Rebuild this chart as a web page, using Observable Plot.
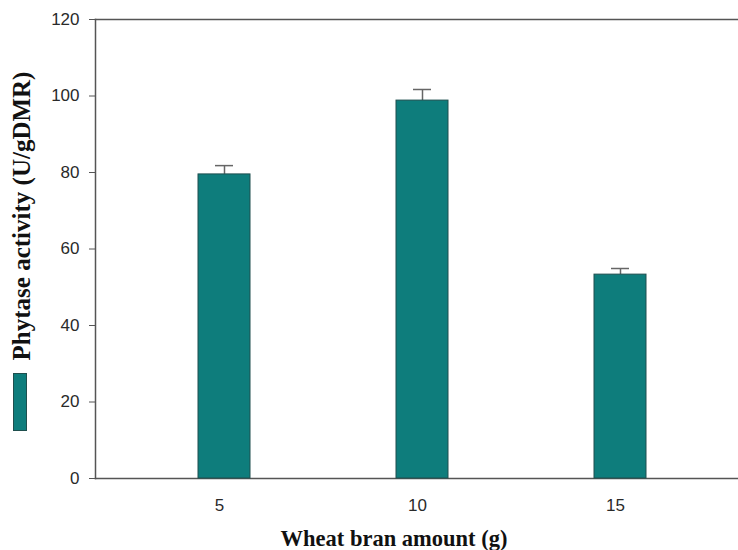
<!DOCTYPE html>
<html>
<head>
<meta charset="utf-8">
<script src="https://cdn.jsdelivr.net/npm/d3@7"></script>
<script src="https://cdn.jsdelivr.net/npm/@observablehq/plot@0.6"></script>
<style>
  html, body { margin: 0; padding: 0; background: #fff; overflow: hidden; }
  #chart { position: relative; width: 738px; height: 550px; }
  #chart svg { display: block; max-width: none !important; }
  #swatch { position: absolute; left: 13px; top: 373px; width: 12px; height: 56px;
            background: #0e7d7c; border: 1px solid #1f4f4e; }
</style>
</head>
<body>
<div id="chart"><div id="swatch"></div></div>
<script>
const amounts = [5, 10, 15];
const activity = [79.5, 98.8, 53.3];
const errors = [2.3, 2.9, 1.6];
const yTicks = [0, 20, 40, 60, 80, 100, 120];
const xLabel = "Wheat bran amount (g)";
const yLabel = "Phytase activity (U/gDMR)";

const data = amounts.map((a, i) => ({amount: a, value: activity[i], err: errors[i]}));

const plot = Plot.plot({
  width: 738,
  height: 550,
  marginLeft: 95,
  marginRight: 0,
  marginTop: 19,
  marginBottom: 72,
  style: {background: "transparent", color: "#333", maxWidth: "none"},
  x: {type: "band", domain: amounts, paddingInner: 0.738, paddingOuter: 0, insetLeft: 102, insetRight: 92},
  y: {domain: [0, 120], ticks: yTicks},
  marks: [
    Plot.frame({anchor: "bottom", stroke: "#555", strokeWidth: 1.5}),
    Plot.frame({anchor: "top", stroke: "#555", strokeWidth: 1.5}),
    Plot.frame({anchor: "left", stroke: "#555", strokeWidth: 1.5}),
    Plot.ruleX(data, {x: "amount", y1: "value", y2: d => d.value + d.err, stroke: "#666", strokeWidth: 1.5}),
    Plot.tickY(data, {x: "amount", y: d => d.value + d.err, stroke: "#666", strokeWidth: 1.5, insetLeft: 17, insetRight: 17}),
    Plot.barY(data, {x: "amount", y: "value", fill: "#0e7d7c", stroke: "#1f4f4e", strokeWidth: 1}),
    Plot.axisY({ticks: yTicks, tickSize: 6, tickPadding: 10, fontSize: 17, fontFamily: "Liberation Sans, Arial, sans-serif", label: null, stroke: "#555", color: "#2a2a2a"}),
    Plot.axisX({tickSize: 0, tickPadding: 20, dx: -5, fontSize: 17, fontFamily: "Liberation Sans, Arial, sans-serif", label: null, color: "#2a2a2a"}),
    Plot.text([xLabel], {frameAnchor: "bottom", textAnchor: "middle", lineAnchor: "middle", dx: -23, dy: 60, fontSize: 22.5, fontWeight: "bold", fontFamily: "Liberation Serif, Times New Roman, serif", fill: "#111"}),
    Plot.text([yLabel], {frameAnchor: "left", textAnchor: "middle", lineAnchor: "middle", rotate: -90, dx: -74, dy: -33, fontSize: 25, fontWeight: "bold", fontFamily: "Liberation Serif, Times New Roman, serif", fill: "#111"})
  ]
});
document.getElementById("chart").prepend(plot);
</script>
</body>
</html>
